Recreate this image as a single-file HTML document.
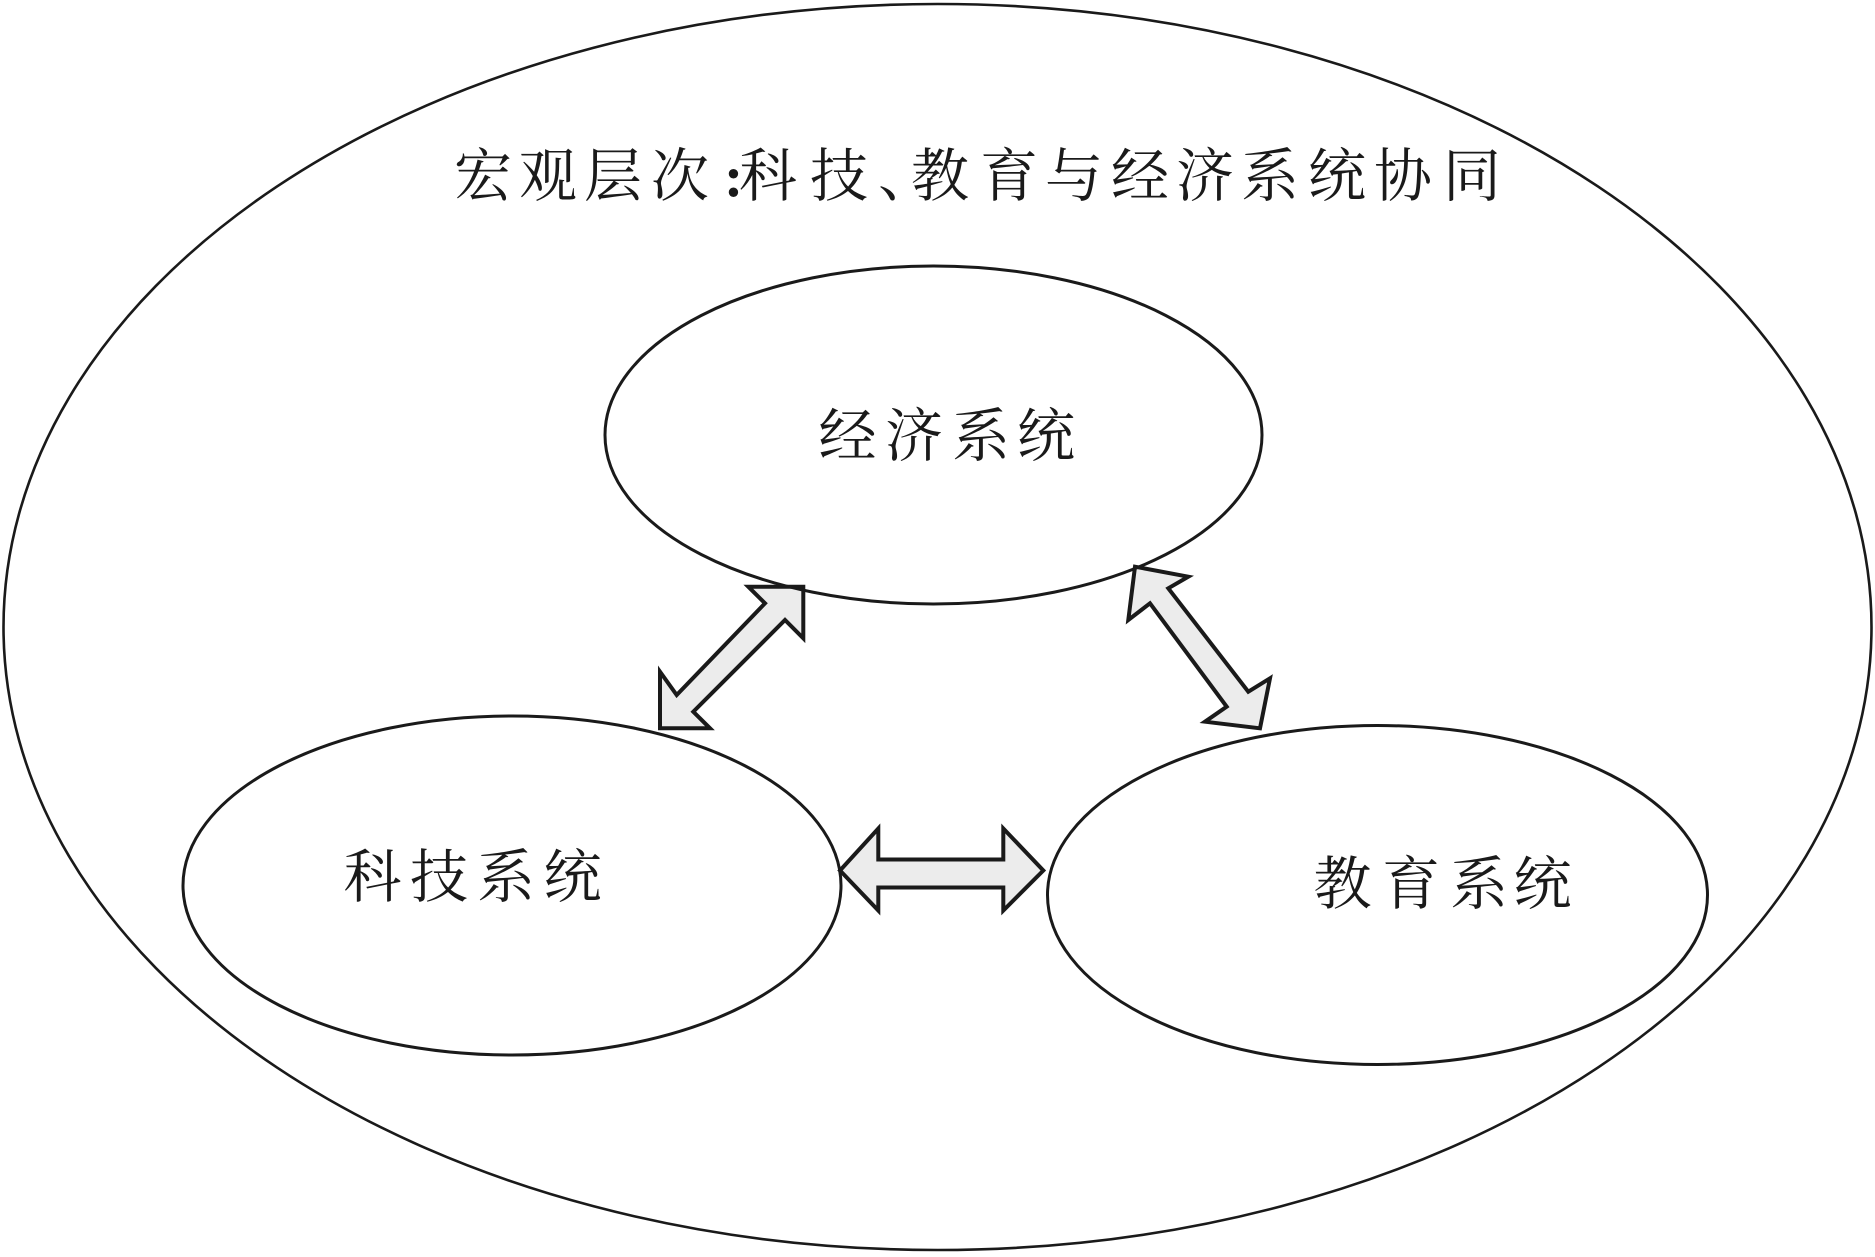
<!DOCTYPE html>
<html>
<head>
<meta charset="utf-8">
<style>
  html, body { margin: 0; padding: 0; background: #ffffff; }
  body { width: 1875px; height: 1257px; overflow: hidden; }
  svg { display: block; }
  text { font-family: "Liberation Serif", "Noto Serif CJK SC", serif; fill: #1a1a1a; font-size: 58px; }
</style>
</head>
<body>
<svg width="1875" height="1257" viewBox="0 0 1875 1257" xmlns="http://www.w3.org/2000/svg">
  <rect x="0" y="0" width="1875" height="1257" fill="#ffffff"/>

  <!-- arrows -->
  <g fill="#ececec" stroke="#1a1a1a" stroke-width="4" stroke-linejoin="miter" stroke-miterlimit="10">
    <polygon points="803.3,586.7 748.3,586.7 765,603.3 676.7,695 660,671.7 660,728.3 710,728.3 693.3,711.7 785,620 803.3,638.3"/>
    <polygon points="1135,566.7 1188.3,576.7 1168.3,588.3 1248.3,691.7 1270,678.3 1260,728.3 1205,721.7 1226.7,706.7 1150,603.3 1128.3,620"/>
    <polygon points="840,870.5 878.3,828.5 878.3,859.5 1003.3,859.5 1003.3,828.5 1043.3,870.5 1003.3,910.5 1003.3,887.5 878.3,887.5 878.3,910.5"/>
  </g>

  <!-- ellipses -->
  <ellipse cx="937.5" cy="627" rx="934" ry="623" fill="none" stroke="#1a1a1a" stroke-width="2.6"/>
  <ellipse cx="933.5" cy="435" rx="328.5" ry="169" fill="none" stroke="#1a1a1a" stroke-width="3"/>
  <ellipse cx="512" cy="885.5" rx="329" ry="169.5" fill="none" stroke="#1a1a1a" stroke-width="3"/>
  <ellipse cx="1377.5" cy="895" rx="330" ry="169.5" fill="none" stroke="#1a1a1a" stroke-width="3"/>

  <!-- title -->
  <text y="196">
    <tspan x="454">宏</tspan><tspan x="519">观</tspan><tspan x="584">层</tspan><tspan x="651">次</tspan><tspan x="724" font-weight="bold">:</tspan><tspan x="739">科</tspan><tspan x="810">技</tspan><tspan x="878">、</tspan><tspan x="911">教</tspan><tspan x="980">育</tspan><tspan x="1045">与</tspan><tspan x="1111">经</tspan><tspan x="1176">济</tspan><tspan x="1241">系</tspan><tspan x="1308">统</tspan><tspan x="1374">协</tspan><tspan x="1443">同</tspan>
  </text>

  <!-- labels -->
  <text y="456">
    <tspan x="818.5">经</tspan><tspan x="885">济</tspan><tspan x="952">系</tspan><tspan x="1017">统</tspan>
  </text>
  <text y="897">
    <tspan x="343.5">科</tspan><tspan x="410">技</tspan><tspan x="477">系</tspan><tspan x="543.5">统</tspan>
  </text>
  <text y="904">
    <tspan x="1313.5">教</tspan><tspan x="1382">育</tspan><tspan x="1450">系</tspan><tspan x="1513.5">统</tspan>
  </text>
</svg>
</body>
</html>
